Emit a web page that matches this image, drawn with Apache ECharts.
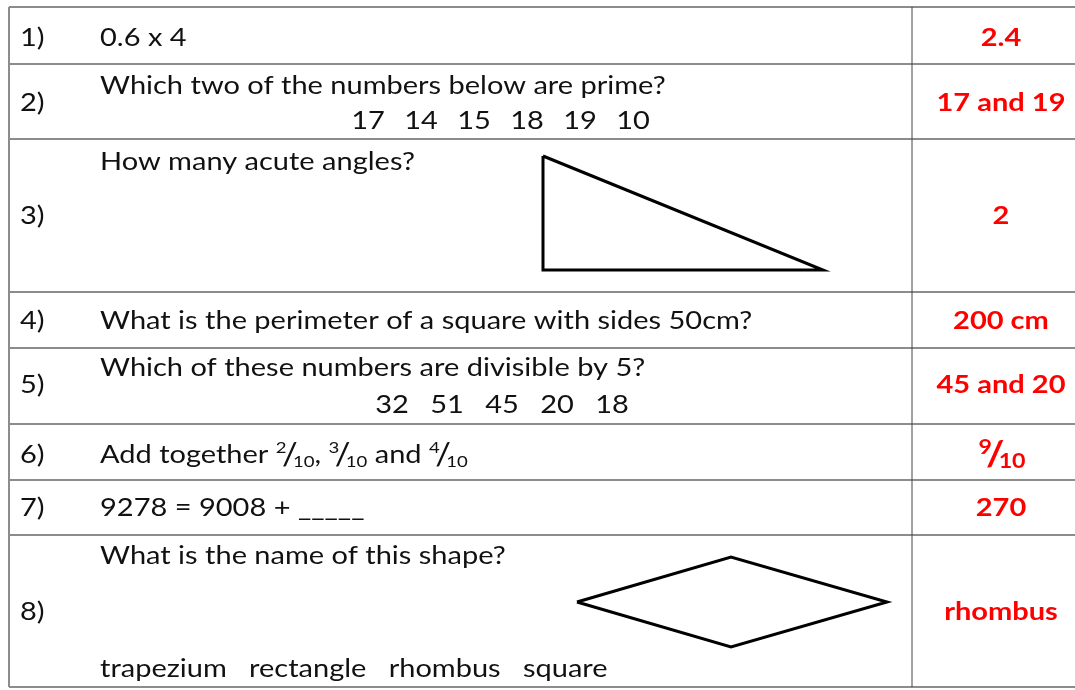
<!DOCTYPE html>
<html>
<head>
<meta charset="utf-8">
<script src="https://cdn.jsdelivr.net/npm/echarts@6/dist/echarts.min.js"></script>
<style>html,body{margin:0;padding:0;background:#fff}#c{width:1075px;height:690px}</style>
</head>
<body>
<div id="c"></div>
<script>
// ---- content ----
const rowLabels = ['1)', '2)', '3)', '4)', '5)', '6)', '7)', '8)'];
const questions = [
  '0.6 x 4',
  'Which two of the numbers below are prime?',
  'How many acute angles?',
  'What is the perimeter of a square with sides 50cm?',
  'Which of these numbers are divisible by 5?',
  'Add together',
  '9278 = 9008 + _____',
  'What is the name of this shape?'
];
const answers = ['2.4', '17 and 19', '2', '200 cm', '45 and 20', '9/10', '270', 'rhombus'];
const primeChoices = ['17', '14', '15', '18', '19', '10'];
const divisibleChoices = ['32', '51', '45', '20', '18'];
const shapeChoices = ['trapezium', 'rectangle', 'rhombus', 'square'];
const addFractions = [['2', '10'], ['3', '10'], ['4', '10']];
const answerFraction = ['9', '10'];
// shape outlines (in page units of the hidden drawing axes)
const triangleX = [543, 543, 823, 543];
const triangleY = [156, 270, 270, 156];
const rhombusX = [577, 731, 887, 731, 577];
const rhombusY = [602, 557, 602, 647, 602];

// ---- layout ----
const FONT = 'Lato, "Open Sans", sans-serif';
const FS = 25;
const SX = 1.16;
const rowLines = [7, 64, 139, 292, 348, 424, 480, 535, 687];
const labelY = [38, 103, 216, 321, 385, 455, 508, 612];
const questionY = [38, 86, 162, 321, 368, 455, 508, 556];
const answerY = [38, 103, 216, 321, 385, 455, 508, 612];
const colX = 912, leftX = 9, rightX = 1075;

const g = [];
rowLines.forEach(function (y) {
  g.push({type: 'line', shape: {x1: leftX, y1: y, x2: rightX, y2: y},
    style: {stroke: '#8c8c8c', lineWidth: 2}, z: 1});
});
g.push({type: 'line', shape: {x1: leftX, y1: rowLines[0], x2: leftX, y2: rowLines[rowLines.length - 1]},
  style: {stroke: '#8c8c8c', lineWidth: 2}, z: 1});
g.push({type: 'line', shape: {x1: colX, y1: rowLines[0], x2: colX, y2: rowLines[rowLines.length - 1]},
  style: {stroke: '#444', lineWidth: 1}, z: 2});

function txt(x, y, s, extra) {
  const st = Object.assign({text: s, fill: '#111', font: FS + 'px ' + FONT,
    textVerticalAlign: 'middle', textAlign: 'left'}, extra || {});
  g.push({type: 'text', x: x, y: y, scaleX: SX, style: st, z: 5});
}

rowLabels.forEach(function (l, i) { txt(20, labelY[i], l); });
questions.forEach(function (q, i) {
  if (i === 5) {
    const parts = addFractions.map(function (f) { return '{n|' + f[0] + '}{s|/}{d|' + f[1] + '}'; });
    const s = q + ' ' + parts[0] + ', ' + parts[1] + ' and ' + parts[2];
    g.push({type: 'text', x: 100, y: questionY[i], z: 5, scaleX: SX, style: {
      text: s, fill: '#111', font: FS + 'px ' + FONT, textVerticalAlign: 'middle',
      rich: {
        n: {fontSize: 16, fontFamily: FONT, verticalAlign: 'top', fill: '#111', padding: [0, -4, 0, 0]},
        s: {fontSize: 30, fontFamily: FONT, fill: '#111', padding: [0, -4, 0, 0]},
        d: {fontSize: 16, fontFamily: FONT, verticalAlign: 'bottom', fill: '#111'}
      }}});
  } else {
    txt(100, questionY[i], q);
  }
});
// answer choices laid out on an even step
primeChoices.forEach(function (c, k) { txt(368 + 53 * k, 121, c, {textAlign: 'center'}); });
divisibleChoices.forEach(function (c, k) { txt(392 + 55 * k, 405, c, {textAlign: 'center'}); });
txt(100, 669, shapeChoices.join('   '));

answers.forEach(function (a, i) {
  if (i === 5) {
    g.push({type: 'text', x: 1002, y: answerY[i], z: 5, scaleX: SX, style: {
      text: '{n|' + answerFraction[0] + '}{s|/}{d|' + answerFraction[1] + '}',
      textAlign: 'center', textVerticalAlign: 'middle', fill: '#ff0000',
      font: 'bold ' + FS + 'px ' + FONT,
      rich: {
        n: {fontSize: 20, fontWeight: 'bold', fontFamily: FONT, verticalAlign: 'top', fill: '#ff0000', padding: [0, -5, 0, 0]},
        s: {fontSize: 34, fontWeight: 'bold', fontFamily: FONT, fill: '#ff0000', padding: [0, -5, 0, 0]},
        d: {fontSize: 20, fontWeight: 'bold', fontFamily: FONT, verticalAlign: 'bottom', fill: '#ff0000'}
      }}});
  } else {
    txt(1001, answerY[i], a, {textAlign: 'center', fill: '#ff0000', font: 'bold ' + FS + 'px ' + FONT});
  }
});

function pts(xs, ys) { return xs.map(function (x, i) { return [x, ys[i]]; }); }

const chart = echarts.init(document.getElementById('c'), null, {renderer: 'canvas'});
chart.setOption({
  backgroundColor: '#fff',
  animation: false,
  grid: {left: 0, right: 0, top: 0, bottom: 0},
  xAxis: {type: 'value', min: 0, max: 1075, show: false},
  yAxis: {type: 'value', min: 0, max: 690, inverse: true, show: false},
  series: [
    {type: 'line', data: pts(triangleX, triangleY), symbol: 'none', silent: true,
      lineStyle: {color: '#000', width: 3, join: 'miter'}},
    {type: 'line', data: pts(rhombusX, rhombusY), symbol: 'none', silent: true,
      lineStyle: {color: '#000', width: 3, join: 'miter'}}
  ],
  graphic: g
});
</script>
</body>
</html>
